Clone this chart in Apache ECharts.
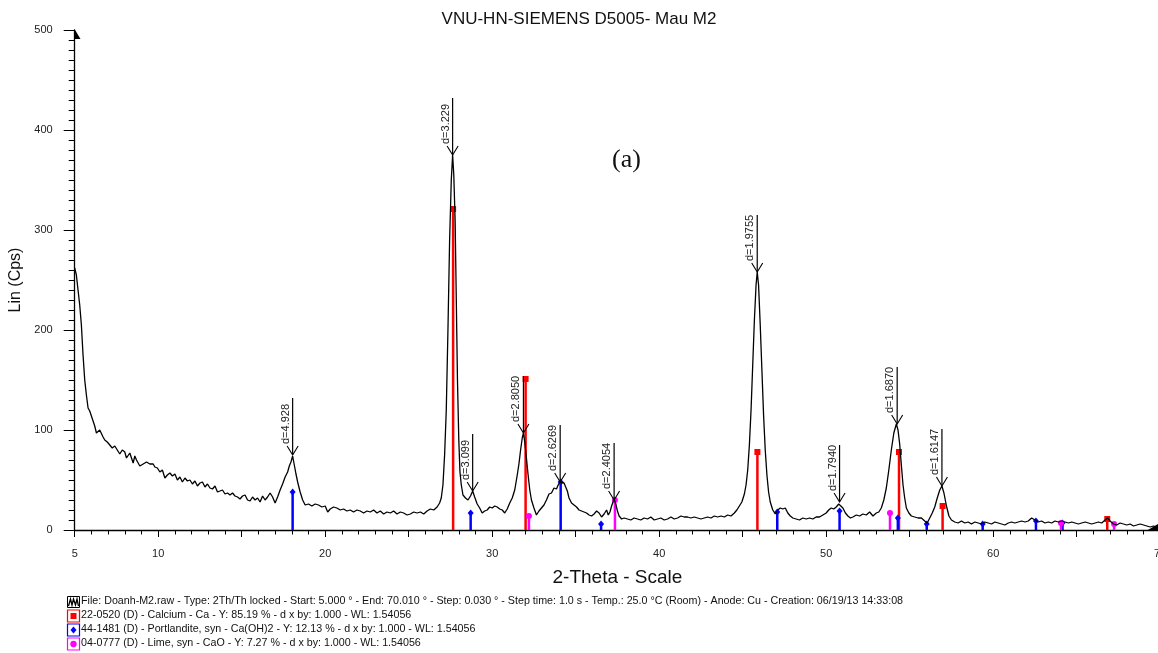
<!DOCTYPE html>
<html>
<head>
<meta charset="utf-8">
<script src="https://cdn.jsdelivr.net/npm/echarts@6/dist/echarts.min.js"></script>
<style>html,body{margin:0;padding:0;background:#fff}#c{width:1158px;height:653px}</style>
</head>
<body>
<div id="c"></div>
<script>
// ---- Data ----
const twoTheta = [5.00,5.10,5.20,5.30,5.40,5.50,5.60,5.70,5.80,5.90,6.00,6.10,6.20,6.30,6.40,6.50,6.60,6.70,6.80,6.95,7.10,7.25,7.40,7.55,7.70,7.85,8.00,8.10,8.20,8.30,8.40,8.50,8.60,8.70,8.80,8.90,9.00,9.10,9.20,9.30,9.40,9.50,9.60,9.70,9.80,9.95,10.10,10.25,10.40,10.55,10.70,10.85,11.00,11.15,11.30,11.45,11.60,11.75,11.90,12.05,12.20,12.35,12.50,12.65,12.80,12.95,13.10,13.25,13.40,13.55,13.70,13.85,14.00,14.15,14.30,14.45,14.60,14.75,14.90,15.05,15.20,15.35,15.50,15.65,15.80,15.95,16.10,16.25,16.40,16.55,16.70,16.85,17.00,17.15,17.30,17.45,17.60,17.75,17.85,17.95,18.05,18.15,18.25,18.35,18.50,18.65,18.80,19.00,19.20,19.40,19.60,19.80,20.00,20.15,20.30,20.50,20.70,20.90,21.10,21.30,21.50,21.70,21.90,22.10,22.30,22.50,22.70,22.90,23.10,23.30,23.50,23.70,23.90,24.10,24.30,24.50,24.70,24.90,25.10,25.30,25.50,25.70,25.90,26.10,26.30,26.50,26.70,26.85,26.95,27.05,27.15,27.25,27.35,27.45,27.55,27.63,27.70,27.78,27.85,27.92,28.00,28.07,28.15,28.25,28.40,28.55,28.70,28.83,28.95,29.10,29.25,29.40,29.55,29.70,29.85,30.00,30.15,30.30,30.45,30.60,30.75,30.90,31.05,31.20,31.35,31.50,31.60,31.70,31.80,31.87,31.95,32.05,32.15,32.25,32.35,32.50,32.65,32.80,32.95,33.10,33.25,33.40,33.55,33.70,33.85,33.95,34.05,34.15,34.30,34.40,34.50,34.60,34.75,34.90,35.05,35.20,35.35,35.50,35.65,35.80,35.95,36.10,36.25,36.40,36.55,36.70,36.85,36.95,37.05,37.15,37.30,37.40,37.50,37.60,37.75,37.90,38.10,38.30,38.50,38.70,38.90,39.10,39.30,39.50,39.70,39.90,40.10,40.30,40.50,40.70,40.90,41.10,41.30,41.50,41.70,41.90,42.10,42.30,42.50,42.70,42.90,43.10,43.30,43.50,43.70,43.90,44.10,44.30,44.50,44.65,44.80,44.95,45.10,45.20,45.30,45.40,45.50,45.60,45.70,45.80,45.87,45.95,46.05,46.15,46.25,46.35,46.45,46.55,46.65,46.80,46.95,47.10,47.25,47.40,47.55,47.70,47.85,48.00,48.20,48.40,48.60,48.80,49.00,49.20,49.40,49.60,49.80,50.00,50.15,50.30,50.45,50.60,50.75,50.85,51.00,51.15,51.30,51.45,51.60,51.80,52.00,52.20,52.40,52.60,52.80,53.00,53.15,53.30,53.45,53.60,53.75,53.90,54.05,54.20,54.30,54.40,54.50,54.60,54.70,54.80,54.95,55.10,55.30,55.50,55.70,55.90,56.05,56.20,56.35,56.50,56.65,56.80,56.93,57.05,57.20,57.35,57.50,57.70,57.90,58.10,58.30,58.50,58.70,58.90,59.10,59.30,59.50,59.70,59.90,60.10,60.30,60.50,60.70,60.90,61.10,61.30,61.50,61.70,61.90,62.10,62.30,62.50,62.70,62.90,63.10,63.30,63.50,63.70,63.90,64.10,64.30,64.50,64.70,64.90,65.10,65.30,65.50,65.70,65.90,66.10,66.30,66.50,66.70,66.85,67.00,67.20,67.40,67.60,67.80,68.00,68.20,68.40,68.60,68.80,69.00,69.20,69.40,69.60,69.80,70.00];
const counts = [262,255,240,225,205,175,150,135,122,119,114,112,104,97,95,100,102,93,90,88,85,82,84,80,76,80,78,72,70,77,75,67,74,70,72,64,62,66,64,68,70,66,68,66,63,62,58,60,52,55,57,54,56,50,53,48,52,49,50,46,49,44,47,48,43,46,42,41,44,38,39,40,36,37,35,37,34,33,31,34,35,30,29,33,30,32,28,34,30,33,37,33,27,33,40,46,53,58,64,68,74,65,56,48,38,30,25,26,24,26,25,23,24,18,21,23,22,20,21,19,20,18,20,19,17,19,18,20,17,19,16,18,17,19,16,18,17,15,16,18,17,18,16,19,21,20,23,27,32,45,75,120,200,290,350,375,355,310,230,150,90,58,45,35,32,30,34,39,33,26,22,17,19,20,23,22,24,23,21,20,17,21,27,32,40,55,66,80,92,97,88,72,55,40,30,22,15,19,22,25,30,36,37,42,41,45,48,47,47,45,39,32,27,25,23,20,19,18,17,15,14,16,19,17,13,16,20,15,18,24,31,26,19,14,11,12,11,10,12,11,10,12,11,13,10,11,12,10,11,13,11,12,14,13,13,12,13,12,11,12,13,12,14,13,14,13,15,14,17,20,24,28,36,45,60,85,120,165,210,245,258,245,205,160,115,80,55,38,28,20,16,20,22,21,22,17,14,12,11,10,12,11,12,11,13,13,15,17,20,22,21,23,26,27,22,17,14,12,13,15,14,16,15,18,14,17,18,22,30,42,60,80,97,106,100,86,65,45,32,22,17,14,13,12,12,9,7,12,17,23,32,40,44,37,24,14,10,8,7,9,7,8,6,8,7,6,8,7,6,8,7,6,5,7,8,7,8,9,8,9,12,10,8,9,7,8,7,9,8,9,8,7,8,7,6,7,8,7,6,7,8,7,10,12,9,6,5,7,6,5,6,4,5,6,5,4,3,4,3];

// Reference patterns (stick positions 2-theta, intensity in Cps)
const calciumPos = [27.66, 32.00, 45.88, 54.36, 56.97, 66.83];
const calciumInt = [321, 151, 78, 78, 24, 11];
const portlanditePos = [18.05, 28.71, 34.10, 36.52, 47.07, 50.80, 54.29, 56.02, 59.37, 62.56, 64.15];
const portlanditeInt = [38, 17, 48, 6, 18, 19, 12, 6, 6, 9, 7];
const limePos = [32.20, 37.35, 53.82, 64.06, 67.24];
const limeInt = [14, 30, 17, 7, 6];

// Peak annotations
const peakPos = [18.05, 27.63, 28.83, 31.87, 34.07, 37.30, 45.87, 50.80, 54.25, 56.93];
const peakInt = [75, 375, 39, 97, 48, 30, 258, 28, 106, 44];
const peakLabels = ['d=4.928','d=3.229','d=3.099','d=2.8050','d=2.6269','d=2.4054','d=1.9755','d=1.7940','d=1.6870','d=1.6147'];

const xLabelValues = [5, 10, 20, 30, 40, 50, 60, 70];

const legendLines = [
  'File: Doanh-M2.raw - Type: 2Th/Th locked - Start: 5.000 ° - End: 70.010 ° - Step: 0.030 ° - Step time: 1.0 s - Temp.: 25.0 °C (Room) - Anode: Cu - Creation: 06/19/13 14:33:08',
  '22-0520 (D) - Calcium - Ca - Y: 85.19 % - d x by: 1.000 - WL: 1.54056',
  '44-1481 (D) - Portlandite, syn - Ca(OH)2 - Y: 12.13 % - d x by: 1.000 - WL: 1.54056',
  '04-0777 (D) - Lime, syn - CaO - Y: 7.27 % - d x by: 1.000 - WL: 1.54056'
];

// ---- Chart ----
const FONT = '"Liberation Sans", Arial, sans-serif';
const chart = echarts.init(document.getElementById('c'), null, {renderer: 'canvas'});

function stickRender(color, shape) {
  return function (params, api) {
    const b = api.coord([api.value(0), 0]);
    const t = api.coord([api.value(0), api.value(1)]);
    let marker;
    if (shape === 'rect') {
      marker = {type: 'rect', shape: {x: t[0] - 3, y: t[1] - 3, width: 6, height: 6}, style: {fill: color}};
    } else if (shape === 'diamond') {
      marker = {type: 'polygon', shape: {points: [[t[0], t[1] - 3.5], [t[0] + 3, t[1]], [t[0], t[1] + 3.5], [t[0] - 3, t[1]]]}, style: {fill: color}};
    } else {
      marker = {type: 'circle', shape: {cx: t[0], cy: t[1], r: 3}, style: {fill: color}};
    }
    return {type: 'group', children: [
      {type: 'line', shape: {x1: b[0], y1: b[1], x2: t[0], y2: t[1]}, style: {stroke: color, lineWidth: 2.5}},
      marker
    ]};
  };
}

function zipXY(xs, ys) { return xs.map((x, i) => [x, ys[i]]); }

const option = {
  animation: false,
  backgroundColor: '#fff',
  title: {
    text: 'VNU-HN-SIEMENS D5005- Mau M2',
    left: 'center', top: 6,
    textStyle: {fontFamily: FONT, fontSize: 17, fontWeight: 'normal', color: '#111'}
  },
  grid: {left: 74.7, top: 30, width: 1085.5, height: 500, containLabel: false, outerBoundsMode: 'none'},
  xAxis: {
    type: 'value', min: 5, max: 70, interval: 5,
    name: '2-Theta - Scale', nameLocation: 'middle', nameGap: 38,
    nameTextStyle: {fontFamily: FONT, fontSize: 19, color: '#111'},
    axisLine: {show: true, onZero: false, lineStyle: {color: '#000', width: 1.3}},
    axisTick: {show: true, length: 7, lineStyle: {color: '#000', width: 1}},
    minorTick: {show: true, splitNumber: 5, length: 4.5, lineStyle: {color: '#000', width: 1}},
    splitLine: {show: false},
    axisLabel: {
      fontFamily: FONT, fontSize: 11, color: '#222', margin: 18,
      showMaxLabel: true, hideOverlap: false,
      formatter: function (v) { return xLabelValues.indexOf(v) >= 0 ? String(v) : ''; }
    }
  },
  yAxis: {
    type: 'value', min: 0, max: 500, interval: 100,
    name: 'Lin (Cps)', nameLocation: 'middle', nameGap: 50, nameRotate: 90,
    nameTextStyle: {fontFamily: FONT, fontSize: 16, color: '#111'},
    axisLine: {show: true, onZero: false, lineStyle: {color: '#000', width: 1.3}},
    axisTick: {show: true, length: 11, lineStyle: {color: '#000', width: 1}},
    minorTick: {show: true, splitNumber: 10, length: 6, lineStyle: {color: '#000', width: 1}},
    splitLine: {show: false},
    axisLabel: {fontFamily: FONT, fontSize: 11, color: '#222', margin: 22}
  },
  series: [
    {
      type: 'custom', name: 'Calcium', renderItem: stickRender('#ff0000', 'rect'),
      data: zipXY(calciumPos, calciumInt), encode: {x: 0, y: 1}, clip: true, z: 3
    },
    {
      type: 'custom', name: 'Portlandite', renderItem: stickRender('#0000ff', 'diamond'),
      data: zipXY(portlanditePos, portlanditeInt), encode: {x: 0, y: 1}, clip: true, z: 3
    },
    {
      type: 'custom', name: 'Lime', renderItem: stickRender('#ff00ff', 'circle'),
      data: zipXY(limePos, limeInt), encode: {x: 0, y: 1}, clip: true, z: 3
    },
    {
      type: 'line', name: 'Doanh-M2', data: zipXY(twoTheta, counts),
      showSymbol: false, symbol: 'none', smooth: false, clip: true, z: 4,
      lineStyle: {color: '#000', width: 1.3}
    },
    {
      type: 'custom', name: 'peaks', z: 5,
      data: zipXY(peakPos, peakInt), encode: {x: 0, y: 1},
      renderItem: function (params, api) {
        const p = api.coord([api.value(0), api.value(1)]);
        return {type: 'group', children: [
          {type: 'line', shape: {x1: p[0], y1: p[1], x2: p[0], y2: p[1] - 57}, style: {stroke: '#000', lineWidth: 1.2}},
          {type: 'polyline', shape: {points: [[p[0] - 5.5, p[1] - 9], [p[0], p[1]], [p[0] + 5.5, p[1] - 9]]}, style: {stroke: '#000', lineWidth: 1.1, fill: null}},
          {type: 'text', x: p[0] - 1.5, y: p[1] - 11, rotation: Math.PI / 2,
           style: {text: peakLabels[params.dataIndex], fill: '#222', font: '11px ' + FONT, align: 'left', verticalAlign: 'bottom'}}
        ]};
      }
    }
  ],
  graphic: [
    // axis arrow heads
    {type: 'polygon', shape: {points: [[74.5, 29], [74.5, 39], [80.5, 39]]}, style: {fill: '#000'}, z: 10},
    {type: 'polygon', shape: {points: [[1147, 530.5], [1158, 530.5], [1158, 524]]}, style: {fill: '#000'}, z: 10},
    // (a)
    {type: 'text', left: 612, top: 147, style: {text: '(a)', font: '26px "Liberation Serif", "Times New Roman", serif', fill: '#111'}},
    // legend icons
    {type: 'rect', shape: {x: 67.5, y: 596.5, width: 12, height: 11}, style: {fill: '#fff', stroke: '#000', lineWidth: 1}},
    {type: 'polyline', shape: {points: [[68.5, 606], [70.5, 599], [72, 605], [73.5, 599], [75.5, 605], [77, 599], [78.5, 606]]}, style: {stroke: '#000', lineWidth: 1.3, fill: null}},
    {type: 'rect', shape: {x: 67.5, y: 610, width: 12, height: 12}, style: {fill: '#fff', stroke: '#ff0000', lineWidth: 1.2}},
    {type: 'rect', shape: {x: 70.5, y: 613, width: 6, height: 6}, style: {fill: '#ff0000'}},
    {type: 'rect', shape: {x: 67.5, y: 624, width: 12, height: 12}, style: {fill: '#fff', stroke: '#0000ff', lineWidth: 1.2}},
    {type: 'polygon', shape: {points: [[73.5, 626.5], [76.5, 630], [73.5, 633.5], [70.5, 630]]}, style: {fill: '#0000ff'}},
    {type: 'rect', shape: {x: 67.5, y: 638, width: 12, height: 12}, style: {fill: '#fff', stroke: '#ff00ff', lineWidth: 1.2}},
    {type: 'circle', shape: {cx: 73.5, cy: 644, r: 3.2}, style: {fill: '#ff00ff'}},
    // legend texts
    {type: 'text', left: 81, top: 595.5, style: {text: legendLines[0], font: '10.7px ' + FONT, fill: '#111'}},
    {type: 'text', left: 81, top: 609.5, style: {text: legendLines[1], font: '10.7px ' + FONT, fill: '#111'}},
    {type: 'text', left: 81, top: 623.5, style: {text: legendLines[2], font: '10.7px ' + FONT, fill: '#111'}},
    {type: 'text', left: 81, top: 637.5, style: {text: legendLines[3], font: '10.7px ' + FONT, fill: '#111'}}
  ]
};
chart.setOption(option);
</script>
</body>
</html>
